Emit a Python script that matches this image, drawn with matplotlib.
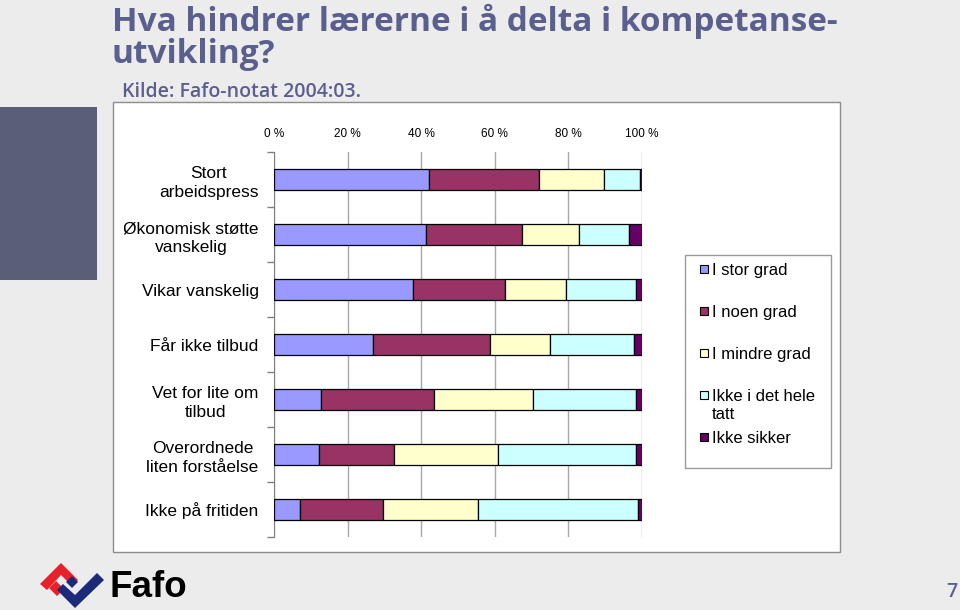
import matplotlib.pyplot as plt
from matplotlib.patches import Rectangle, Polygon
import numpy as np

# categories (top to bottom) and the five answer series, in percent
categories = ["Stort\narbeidspress", "Økonomisk støtte\nvanskelig", "Vikar vanskelig",
              "Får ikke tilbud", "Vet for lite om\ntilbud", "Overordnede\nliten forståelse",
              "Ikke på fritiden"]
series_names = ["I stor grad", "I noen grad", "I mindre grad", "Ikke i det hele\ntatt", "Ikke sikker"]
stor_grad = [42.0, 41.4, 37.8, 27.0, 12.8, 12.2, 7.1]
noen_grad = [30.0, 26.0, 24.9, 31.6, 30.6, 20.3, 22.5]
mindre_grad = [17.7, 15.6, 16.6, 16.5, 27.0, 28.5, 25.9]
ikke_i_det_hele_tatt = [9.8, 13.4, 19.1, 22.8, 28.0, 37.4, 43.4]
ikke_sikker = [0.5, 3.6, 1.6, 2.1, 1.6, 1.6, 1.1]
xticks = [0, 20, 40, 60, 80, 100]
xtick_labels = ["0 %", "20 %", "40 %", "60 %", "80 %", "100 %"]

colors = ["#9999FF", "#993366", "#FFFFCC", "#CCFFFF", "#660066"]
slate = "#5b5f8e"
W, H = 960, 610

fig = plt.figure(figsize=(W / 100, H / 100), dpi=100, facecolor="#ececec")

# background layer in pixel coordinates for the slide decoration
bg = fig.add_axes([0, 0, 1, 1])
bg.set_xlim(0, W)
bg.set_ylim(H, 0)
bg.axis("off")

bg.add_patch(Rectangle((0, 107), 97, 173, fc="#5b5e78", ec="none"))
bg.add_patch(Rectangle((113, 102), 727, 450, fc="white", ec="#8c8c8c", lw=1))

bg.text(112, 31, "Hva hindrer lærerne i å delta i kompetanse-", fontsize=24,
        fontweight="bold", family="Open Sans", color=slate, va="baseline")
bg.text(112, 63, "utvikling?", fontsize=24, fontweight="bold",
        family="Open Sans", color=slate, va="baseline")
bg.text(122, 97, "Kilde: Fafo-notat 2004:03.", fontsize=14, fontweight="semibold",
        family="Open Sans", color=slate, va="baseline")

# legend drawn by hand so the spacing matches the Excel one
bg.add_patch(Rectangle((685, 255), 146, 213, fc="white", ec="#9a9a9a", lw=1))
for i, (name, col) in enumerate(zip(series_names, colors)):
    yc = 269 + 42 * i
    bg.add_patch(Rectangle((700, yc - 4), 8, 8, fc=col, ec="black", lw=0.8))
    bg.text(712, yc - 6, name, fontsize=12, family="Liberation Sans",
            va="top", ha="left", linespacing=1.25)

# Fafo logo
bg.add_patch(Polygon([(40, 584), (61, 563), (78, 580), (72, 586), (61, 575), (47, 590)],
                     closed=True, fc="#e8202a", ec="none"))
bg.add_patch(Polygon([(49, 588), (56, 581), (64, 589), (57, 596)],
                     closed=True, fc="#e8202a", ec="none"))
bg.add_patch(Polygon([(57, 590), (75, 608), (104, 580), (97, 573), (75, 595), (63, 584)],
                     closed=True, fc="#1c2a7a", ec="none"))
bg.add_patch(Polygon([(66, 582), (72, 576), (78, 582), (72, 588)],
                     closed=True, fc="#1c2a7a", ec="none"))
bg.text(109, 597, "Fafo", fontsize=26.5, fontweight="bold", family="Liberation Sans",
        color="black", va="baseline")
bg.text(957, 597, "7", fontsize=14, fontweight="semibold", family="Open Sans",
        color=slate, va="baseline", ha="right")

# chart
ax = fig.add_axes([274 / W, 1 - 537 / H, 368 / W, 385 / H])
y = np.arange(len(categories))
left = np.zeros(len(categories))
for vals, col in zip([stor_grad, noen_grad, mindre_grad, ikke_i_det_hele_tatt, ikke_sikker], colors):
    ax.barh(y, vals, left=left, height=0.39, color=col, edgecolor="black", lw=0.9, zorder=3)
    left += np.array(vals)

ax.set_xlim(0, 100)
ax.set_ylim(len(categories) - 0.5, -0.5)
ax.xaxis.tick_top()
ax.set_xticks(xticks)
ax.set_xticklabels(xtick_labels, fontsize=8.5, family="Liberation Sans")
ax.tick_params(axis="x", length=0, pad=8.5)
ax.grid(axis="x", color="#a8a8a8", lw=1, zorder=0)

ax.set_yticks(y)
ax.set_yticklabels(categories, fontsize=12.5, family="Liberation Sans")
for lab in ax.get_yticklabels():
    lab.set_multialignment("center")
    lab.set_linespacing(1.35)
ax.set_yticks(np.arange(-0.5, len(categories), 1), minor=True)
ax.tick_params(axis="y", which="major", length=0, pad=11)
ax.tick_params(axis="y", which="minor", length=5, color="#808080", width=1)

for s in ["top", "right", "bottom"]:
    ax.spines[s].set_visible(False)
ax.spines["left"].set_color("#808080")

fig.savefig("out.png", dpi=100, facecolor=fig.get_facecolor())
